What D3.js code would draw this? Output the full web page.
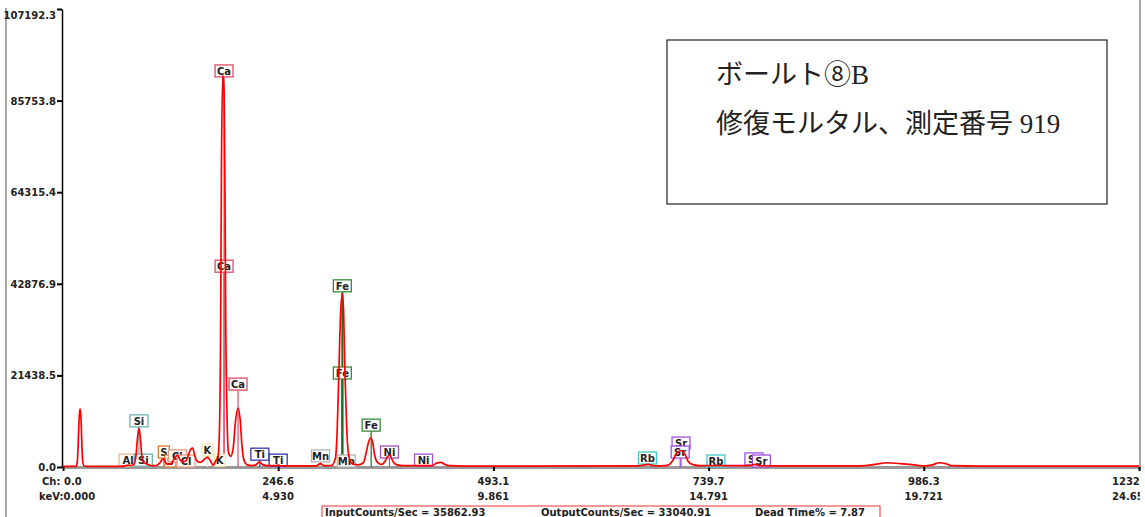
<!DOCTYPE html>
<html>
<head>
<meta charset="utf-8">
<script src="https://cdnjs.cloudflare.com/ajax/libs/d3/7.8.5/d3.min.js"></script>
<style>
body { margin: 0; background: #fff; }
svg text { font-family: "DejaVu Sans", Verdana, sans-serif; }
</style>
</head>
<body>
<div id="chart"></div>
<script>
// spectrum: [keV, counts]
var spectrum = [[0,150],[0.30,150],[0.33,1500],[0.35,6000],[0.37,11500],[0.39,13600],[0.41,12000],[0.43,6000],[0.45,1500],[0.48,300],[0.55,150],
  [1.35,150],[1.45,350],[1.50,450],[1.56,350],[1.62,600],[1.67,2500],[1.70,6000],[1.74,9100],[1.77,7000],[1.80,3200],[1.84,1300],[1.88,900],[1.94,600],[2.02,300],
  [2.14,350],[2.22,1000],[2.28,1800],[2.31,1900],[2.35,1100],[2.40,600],[2.48,800],[2.55,2000],[2.62,2800],[2.68,1700],[2.75,1200],[2.82,1500],[2.88,3000],[2.93,4200],[2.97,4400],[3.02,2600],[3.08,1300],[3.15,1100],
  [3.24,1800],[3.31,2300],[3.38,1400],[3.44,400],[3.50,1500],[3.55,2300],[3.58,7000],[3.61,30000],[3.63,70000],[3.66,91700],[3.69,88000],[3.71,65000],[3.73,32000],[3.76,11000],[3.79,3500],[3.84,2500],
  [3.90,4500],[3.95,10500],[4.01,13800],[4.06,11000],[4.10,5000],[4.15,1500],[4.22,500],[4.33,300],[4.42,500],[4.50,1200],[4.58,500],[4.70,300],[4.88,300],[4.93,450],[5.00,250],
  [5.80,250],[5.90,800],[5.98,300],[6.15,350],[6.24,2000],[6.28,8000],[6.32,22000],[6.36,36000],[6.40,40500],[6.43,36000],[6.46,22000],[6.50,9000],[6.55,2500],[6.62,800],[6.76,500],
  [6.88,1000],[6.95,3500],[7.00,5800],[7.05,6800],[7.10,5500],[7.14,2800],[7.21,1000],[7.30,600],[7.37,1200],[7.44,2500],[7.49,2700],[7.56,1300],[7.65,500],[7.80,300],
  [8.45,300],[8.56,900],[8.66,1100],[8.75,600],[8.86,300],[9.2,200],[13.2,250],[13.4,600],[13.56,250],[13.85,400],[13.97,1500],[14.06,3300],[14.16,3800],[14.25,3000],[14.33,1200],[14.45,500],[14.6,300],
  [15.0,300],[15.73,300],[15.85,600],[15.96,300],[16.5,250],[18.25,250],[18.6,600],[18.89,1000],[19.17,800],[19.5,500],[19.74,250],[19.92,500],[20.08,1000],[20.22,800],[20.36,300],[21,200],[24.652,200]];

var yTicks = [0, 21438.5, 42876.9, 64315.4, 85753.8, 107192.3];
var xTicksKev = [0, 4.930, 9.861, 14.791, 19.721, 24.652];
var xTicksCh = ["0.0", "246.6", "493.1", "739.7", "986.3", "1232.9"];
var xTicksKevText = ["0.000", "4.930", "9.861", "14.791", "19.721", "24.652"];

// element markers: [name, keV, counts at label centre]
var peakLabels = [["Al",1.49,1600],["Si",1.84,1600],["Si",1.74,10800],["S",2.31,3500],["S",2.46,1400],["Cl",2.62,2600],["Cl",2.82,1400],
  ["K",3.31,4000],["K",3.59,1600],["Ca",3.69,92700],["Ca",3.69,47000],["Ca",4.01,19400],["Ti",4.51,3000],["Ti",4.93,1600],
  ["Mn",5.90,2600],["Mn",6.49,1400],["Fe",6.40,42400],["Fe",6.40,22000],["Fe",7.06,9800],["Ni",7.48,3500],["Ni",8.26,1600],
  ["Rb",13.39,2100],["Rb",14.96,1400],["Sr",14.16,5600],["Sr",14.14,3500],["Sr",15.83,1900],["Sr",16.0,1400]];
var elementColors = {Al:"#e8b896",Si:"#70b0b0",S:"#e07a30",Cl:"#e89a80",K:"#f4e8b0",Ca:"#e04a66",Ti:"#3838a8",
  Mn:"#b4b4b4",Fe:"#3a8a3a",Ni:"#a050c0",Rb:"#40c8c8",Sr:"#a050e0"};

var statusTexts = ["InputCounts/Sec = 35862.93", "OutputCounts/Sec = 33040.91", "Dead Time% = 7.87"];
var noteLines = ["ボールト⑧B", "修復モルタル、測定番号 919"];

var W = 1145, H = 517;
var svg = d3.select("#chart").append("svg")
    .attr("width", W)
    .attr("height", H);

svg.append("defs").append("clipPath").attr("id", "clip")
    .append("rect").attr("x", 0).attr("y", 0).attr("width", 1140).attr("height", H);

var x = d3.scaleLinear().domain([0, 24.652]).range([63, 1139]);
var y = d3.scaleLinear().domain([0, 107192.3]).range([467, 9]);

// frame lines
svg.append("line").attr("x1", 6).attr("x2", 6).attr("y1", 8).attr("y2", H)
    .attr("stroke", "#888").attr("stroke-width", 1.5);
svg.append("line").attr("x1", 1140).attr("x2", 1140).attr("y1", 0).attr("y2", 470)
    .attr("stroke", "#888").attr("stroke-width", 1.5);

// x axis (gray base line, black ticks)
var xAxis = svg.append("g")
    .attr("transform", "translate(0,467)")
    .call(d3.axisBottom(x).tickValues(xTicksKev).tickSize(4).tickSizeOuter(0).tickFormat(""));
xAxis.select(".domain").attr("stroke", "#999").attr("stroke-width", 3);
xAxis.selectAll(".tick line").attr("stroke", "#000").attr("stroke-width", 2);

// the last pair of labels runs off the right edge, as in the original
var xLab = svg.append("g").attr("clip-path", "url(#clip)")
    .attr("font-size", 10).attr("font-weight", "bold").attr("fill", "#222");
var last = xTicksKev.length - 1;
xTicksKev.forEach(function(v, i) {
    if (i === 0) {
        xLab.append("text").attr("x", 42).attr("y", 485).text("Ch: " + xTicksCh[i]);
        xLab.append("text").attr("x", 39).attr("y", 500).text("keV:" + xTicksKevText[i]);
    } else if (i === last) {
        xLab.append("text").attr("x", x(v) - 27).attr("y", 485).text(xTicksCh[i]);
        xLab.append("text").attr("x", x(v) - 27).attr("y", 500).text(xTicksKevText[i]);
    } else {
        xLab.append("text").attr("x", x(v)).attr("y", 485).attr("text-anchor", "middle").text(xTicksCh[i]);
        xLab.append("text").attr("x", x(v)).attr("y", 500).attr("text-anchor", "middle").text(xTicksKevText[i]);
    }
});

// y axis
var yAxis = svg.append("g")
    .attr("transform", "translate(62,0)")
    .call(d3.axisLeft(y).tickValues(yTicks).tickSize(5).tickSizeOuter(0).tickFormat(d => d.toFixed(1)));
yAxis.select(".domain").attr("stroke", "#000").attr("stroke-width", 1.5);
yAxis.selectAll(".tick line").attr("stroke", "#000").attr("stroke-width", 2);
yAxis.selectAll(".tick text")
    .attr("x", -6)
    .attr("font-size", 10).attr("font-weight", "bold").attr("fill", "#222")
    .attr("font-family", "DejaVu Sans, Verdana, sans-serif")
    .attr("dy", (d, i) => i === yTicks.length - 1 ? "0.95em" : "0.35em");

// marker lines and labels
var markers = svg.append("g");
markers.selectAll("line")
    .data(peakLabels)
    .enter().append("line")
    .attr("x1", d => x(d[1])).attr("x2", d => x(d[1]))
    .attr("y1", d => y(d[2]) + 6).attr("y2", 467)
    .attr("stroke", d => d[0] === "Fe" ? "#1c6e1c" : elementColors[d[0]])
    .attr("stroke-width", d => d[0] === "Fe" && d[2] > 20000 ? 2 : 1.2);

// spectrum
var line = d3.line().x(d => x(d[0])).y(d => y(d[1])).curve(d3.curveMonotoneX);
svg.append("path")
    .datum(spectrum)
    .attr("d", line)
    .attr("fill", "none")
    .attr("stroke", "#ff0000")
    .attr("stroke-width", 1.7);

var labG = markers.selectAll("g.lab")
    .data(peakLabels)
    .enter().append("g")
    .attr("class", "lab")
    .attr("transform", d => `translate(${x(d[1])},${y(d[2])})`);
labG.append("rect")
    .attr("x", d => -(d[0].length * 7 + 4) / 2)
    .attr("y", -6)
    .attr("width", d => d[0].length * 7 + 4)
    .attr("height", 12)
    .attr("fill", "#fff")
    .attr("stroke", d => elementColors[d[0]])
    .attr("stroke-width", 1.3);
labG.append("text")
    .attr("text-anchor", "middle")
    .attr("y", 4)
    .attr("font-size", 10).attr("font-weight", "bold").attr("fill", "#222")
    .text(d => d[0]);

// note box
svg.append("rect")
    .attr("x", 667).attr("y", 40).attr("width", 440).attr("height", 164)
    .attr("fill", "#fff").attr("stroke", "#222").attr("stroke-width", 1.2);
svg.selectAll("text.note")
    .data(noteLines)
    .enter().append("text")
    .attr("class", "note")
    .attr("x", 716)
    .attr("y", (d, i) => 84 + i * 49)
    .attr("font-size", 27)
    .style("font-family", "'Liberation Serif', 'Noto Sans CJK JP', serif")
    .attr("fill", "#222")
    .text(d => d);

// status bar
svg.append("rect")
    .attr("x", 322).attr("y", 506).attr("width", 558).attr("height", 20)
    .attr("fill", "none").attr("stroke", "#f03030").attr("stroke-width", 1);
var statusX = [325, 541, 755];
svg.selectAll("text.status")
    .data(statusTexts)
    .enter().append("text")
    .attr("class", "status")
    .attr("x", (d, i) => statusX[i])
    .attr("y", 516)
    .attr("font-size", 10).attr("font-weight", "bold").attr("fill", "#222")
    .text(d => d);
</script>
</body>
</html>
